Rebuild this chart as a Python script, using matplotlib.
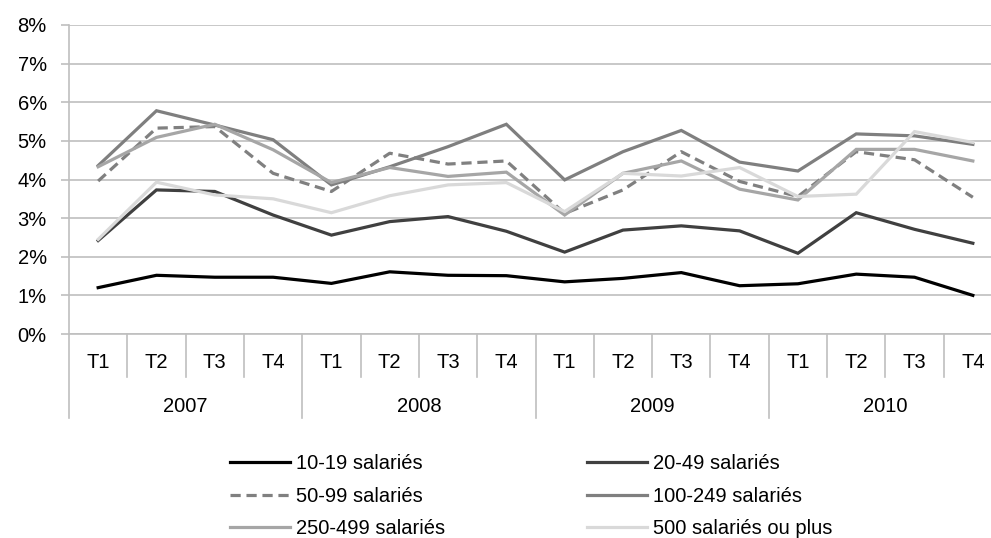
import matplotlib

matplotlib.use("Agg")
import matplotlib.pyplot as plt
from matplotlib.ticker import FuncFormatter
from matplotlib.transforms import blended_transform_factory

plt.rcParams["font.family"] = ["Liberation Sans", "DejaVu Sans"]

years = ["2007", "2008", "2009", "2010"]
quarters = ["T1", "T2", "T3", "T4"]

s_10_19 = [1.20, 1.52, 1.47, 1.47, 1.31, 1.61, 1.52, 1.51,
           1.35, 1.44, 1.59, 1.25, 1.30, 1.55, 1.47, 1.00]
s_20_49 = [2.42, 3.73, 3.69, 3.08, 2.56, 2.91, 3.04, 2.66,
           2.12, 2.69, 2.80, 2.67, 2.09, 3.14, 2.71, 2.35]
s_50_99 = [3.96, 5.33, 5.37, 4.16, 3.69, 4.68, 4.40, 4.48,
           3.12, 3.73, 4.72, 3.95, 3.56, 4.72, 4.51, 3.54]
s_100_249 = [4.36, 5.78, 5.41, 5.03, 3.86, 4.33, 4.85, 5.43,
             3.99, 4.72, 5.27, 4.45, 4.22, 5.18, 5.13, 4.91]
s_250_499 = [4.33, 5.09, 5.43, 4.77, 3.92, 4.31, 4.08, 4.19,
             3.08, 4.16, 4.48, 3.75, 3.47, 4.78, 4.78, 4.48]
s_500 = [2.45, 3.93, 3.60, 3.50, 3.14, 3.58, 3.86, 3.92,
         3.17, 4.16, 4.09, 4.31, 3.56, 3.62, 5.24, 4.96]

series = [
    ("10-19 salariés", s_10_19, "#000000", "-"),
    ("20-49 salariés", s_20_49, "#404040", "-"),
    ("50-99 salariés", s_50_99, "#808080", (0, (3.2, 1.8))),
    ("100-249 salariés", s_100_249, "#7f7f7f", "-"),
    ("250-499 salariés", s_250_499, "#a6a6a6", "-"),
    ("500 salariés ou plus", s_500, "#d9d9d9", "-"),
]

W, H = 991, 538
fig = plt.figure(figsize=(W / 100, H / 100), dpi=100)
# plot area runs a little past the right edge, as in the source image
ax = fig.add_axes([69 / W, 1 - 334 / H, 933 / W, 309 / H])

n = len(years) * len(quarters)
x = list(range(n))
handles = {}
for label, vals, color, ls in series:
    (ln,) = ax.plot(x, vals, color=color, lw=2.3, ls=ls, label=label,
                    solid_joinstyle="miter", zorder=3)
    handles[label] = ln

ax.set_xlim(-0.5, n - 0.5)
ax.set_ylim(0, 8)
ax.set_yticks(range(0, 9))
ax.yaxis.set_major_formatter(FuncFormatter(lambda v, _: f"{v:.0f}%"))
ax.grid(axis="y", color="#bfbfbf", lw=1.2, zorder=0)
ax.tick_params(axis="y", length=6, width=1.2, color="#bfbfbf", pad=10,
               labelsize=14.5)
ax.set_xticks([])
for side in ("top", "right"):
    ax.spines[side].set_visible(False)
for side in ("left", "bottom"):
    ax.spines[side].set_color("#bfbfbf")
    ax.spines[side].set_linewidth(1.2)

# two-level category axis: quarters then years
tr = blended_transform_factory(ax.transData, ax.transAxes)
px = 1 / 309  # one pixel in axes-fraction units (vertical)
for i in range(n):
    ax.text(i, -29 * px, quarters[i % 4], transform=tr, ha="center",
            va="center", fontsize=14.5)
for k, yr in enumerate(years):
    ax.text(k * 4 + 1.5, -73 * px, yr, transform=tr, ha="center",
            va="center", fontsize=14.5)
for b in range(n + 1):
    depth = 84 if b % 4 == 0 else 43
    ax.plot([b - 0.5, b - 0.5], [0, -depth * px], transform=tr,
            color="#bfbfbf", lw=1.2, clip_on=False)

order = ["10-19 salariés", "50-99 salariés", "250-499 salariés",
         "20-49 salariés", "100-249 salariés", "500 salariés ou plus"]
fig.legend([handles[o] for o in order], order, ncol=2, frameon=False,
           loc="upper left", bbox_to_anchor=(230 / W, 1 - 454 / H),
           fontsize=14.5, handlelength=3.0, handletextpad=0.3,
           columnspacing=7.0, labelspacing=0.68, borderpad=0,
           borderaxespad=0)

# title cut off at the top of the source image
fig.text(511 / W, 1 + 7 / H, "(en %)", ha="center", va="baseline",
         fontsize=16, family=["Liberation Serif", "DejaVu Serif"])

fig.savefig("out.png", dpi=100)
